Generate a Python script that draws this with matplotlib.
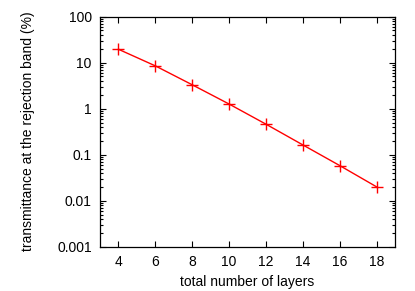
import matplotlib
matplotlib.use("Agg")
import matplotlib.pyplot as plt
from matplotlib.ticker import LogLocator, NullFormatter

layers = [4, 6, 8, 10, 12, 14, 16, 18]
transmittance = [19.5, 8.5, 3.3, 1.26, 0.46, 0.163, 0.058, 0.020]
xticks = [4, 6, 8, 10, 12, 14, 16, 18]
yticks = [0.001, 0.01, 0.1, 1, 10, 100]
ytick_labels = ["0.001", "0.01", "0.1", "1", "10", "100"]

plt.rcParams['font.family'] = ['Liberation Sans', 'DejaVu Sans']
fig = plt.figure(figsize=(4.15, 2.91), dpi=100)
ax = fig.add_axes([0.241, 0.152, 0.711, 0.791])
ax.plot(layers, transmittance, color='#ff0000', lw=1.0, marker='+',
        markersize=9, markeredgewidth=1.0)
ax.set_yscale('log')
ax.set_xlim(3, 19)
ax.set_ylim(0.001, 100)
ax.set_xticks(xticks)
ax.set_xticklabels([str(v) for v in xticks])
ax.set_yticks(yticks)
ax.set_yticklabels(ytick_labels)
ax.yaxis.set_minor_locator(LogLocator(base=10, subs=range(2, 10)))
ax.yaxis.set_minor_formatter(NullFormatter())
ax.tick_params(which='both', direction='in', top=True, right=True, labelsize=10, width=0.8)
ax.tick_params(which='major', length=4, pad=6)
ax.tick_params(which='minor', length=2)
for s in ax.spines.values():
    s.set_linewidth(0.9)
ax.set_xlabel('total number of layers', fontsize=10, labelpad=4)
ax.set_ylabel('transmittance at the rejection band (%)', fontsize=10, labelpad=16)
fig.savefig('out.png', dpi=100)
